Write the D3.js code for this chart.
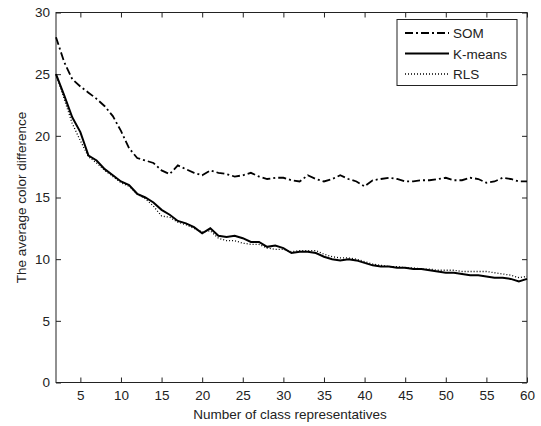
<!DOCTYPE html>
<html><head><meta charset="utf-8">
<script src="https://cdn.jsdelivr.net/npm/d3@7"></script>
<style>body{margin:0;background:#fff}svg{display:block}text{font-family:"Liberation Sans",Arial,sans-serif;fill:#222}</style>
</head><body><svg id="c" width="541" height="426"></svg>
<script>
const xValues = d3.range(2, 61);
const som = [28.0,26.0,24.6,24.0,23.5,23.0,22.4,21.6,20.4,19.0,18.2,18.0,17.8,17.2,16.9,17.6,17.3,17.0,16.8,17.2,17.0,16.9,16.7,16.8,17.0,16.7,16.5,16.6,16.6,16.4,16.3,16.8,16.5,16.3,16.5,16.8,16.5,16.3,15.9,16.4,16.5,16.6,16.5,16.3,16.3,16.4,16.4,16.5,16.6,16.4,16.4,16.6,16.5,16.2,16.3,16.6,16.5,16.3,16.3];
const kmeans = [25.0,23.3,21.5,20.3,18.4,18.0,17.3,16.8,16.3,16.0,15.3,15.0,14.6,14.0,13.6,13.1,12.9,12.6,12.1,12.5,11.9,11.8,11.9,11.7,11.4,11.4,11.0,11.1,10.9,10.5,10.6,10.6,10.5,10.2,10.0,9.9,10.0,9.9,9.7,9.5,9.4,9.4,9.3,9.3,9.2,9.2,9.1,9.0,8.9,8.9,8.8,8.7,8.7,8.6,8.5,8.5,8.4,8.2,8.4];
const rls = [25.0,23.0,21.0,19.6,18.3,17.8,17.2,16.7,16.2,15.9,15.3,14.9,14.3,13.5,13.4,13.0,12.8,12.5,12.2,12.3,11.7,11.5,11.5,11.3,11.2,11.2,10.9,10.8,10.8,10.6,10.7,10.7,10.7,10.4,10.2,10.1,10.1,10.0,9.8,9.6,9.5,9.4,9.4,9.3,9.3,9.2,9.2,9.1,9.1,9.1,9.0,9.0,9.0,9.0,8.9,8.8,8.7,8.5,8.6];
const xTicks = [5,10,15,20,25,30,35,40,45,50,55,60];
const yTicks = [0,5,10,15,20,25,30];
const seriesNames = ["SOM","K-means","RLS"];
const dashes = ["8,3,2,3", null, "1,2"];
const widths = [1.8, 2, 1.3];
const allSeries = [som, kmeans, rls];

const svg = d3.select("#c");
const L=56, R=527, T=12.5, B=382.5;
const x = d3.scaleLinear().domain([2,60]).range([L,R]);
const y = d3.scaleLinear().domain([0,30]).range([B,T]);

svg.append("rect").attr("x",L).attr("y",T).attr("width",R-L).attr("height",B-T)
  .attr("fill","none").attr("stroke","#222").attr("stroke-width",1);

const ax = (gen, tr) => {
  const a = svg.append("g").attr("transform", tr).call(gen);
  a.select(".domain").remove();
  a.selectAll("line").attr("stroke","#222");
  a.selectAll("text").style("font-size","13.5px").style("fill","#222");
  return a;
};
ax(d3.axisBottom(x).tickValues(xTicks).tickSize(-5).tickPadding(8), `translate(0,${B})`);
ax(d3.axisTop(x).tickValues(xTicks).tickSize(-5).tickFormat(""), `translate(0,${T})`);
ax(d3.axisLeft(y).tickValues(yTicks).tickSize(-5).tickPadding(6), `translate(${L},0)`);
ax(d3.axisRight(y).tickValues(yTicks).tickSize(-5).tickFormat(""), `translate(${R},0)`);

const line = d3.line().x((d,i)=>x(xValues[i])).y(d=>y(d));
allSeries.forEach((s,k)=>{
  svg.append("path").datum(s).attr("d",line).attr("fill","none")
    .attr("stroke","#000").attr("stroke-width",widths[k])
    .attr("stroke-dasharray",dashes[k]);
});

svg.append("text").attr("x",290).attr("y",419).attr("text-anchor","middle")
  .style("font-size","13.5px").text("Number of class representatives");
svg.append("text").attr("transform",`translate(26,${(T+B)/2}) rotate(-90)`).attr("text-anchor","middle")
  .style("font-size","13.5px").text("The average color difference");

const lg = svg.append("g");
lg.append("rect").attr("x",397).attr("y",19.5).attr("width",120).attr("height",66)
  .attr("fill","#fff").attr("stroke","#222").attr("stroke-width",1);
seriesNames.forEach((n,k)=>{
  const yy = 33 + k*20.5;
  lg.append("line").attr("x1",405).attr("x2",449).attr("y1",yy).attr("y2",yy)
    .attr("stroke","#000").attr("stroke-width",widths[k]).attr("stroke-dasharray",dashes[k]);
  lg.append("text").attr("x",453).attr("y",yy+5).style("font-size","13.5px").text(n);
});
</script></body></html>
